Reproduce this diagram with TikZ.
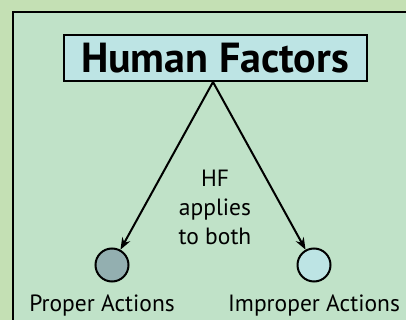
\documentclass[tikz,border=0pt]{standalone}
\usepackage{fontspec}
\setmainfont{PT Sans}
\usetikzlibrary{arrows.meta}
\definecolor{outerbg}{RGB}{196,224,180}
\definecolor{panelbg}{RGB}{192,226,200}
\definecolor{titlefill}{RGB}{189,228,228}
\definecolor{leftfill}{RGB}{147,175,176}
\definecolor{rightfill}{RGB}{189,228,228}
\tikzset{
  titlebox/.style={draw=black, line width=2pt, fill=titlefill, minimum width=303pt, minimum height=46pt, inner sep=0pt, font=\fontsize{42}{46}\selectfont\bfseries},
  dot/.style={circle, draw=black, line width=2pt, minimum size=33pt, inner sep=0pt},
  conn/.style={line width=2pt, -{Stealth[length=12pt,width=9pt]}},
  lbl/.style={font=\fontsize{23.5}{29}\selectfont, align=center, inner sep=0pt}
}
\begin{document}
\begin{tikzpicture}[x=1pt,y=1pt]
\useasboundingbox (0,0) rectangle (406,320);
\fill[outerbg] (0,0) rectangle (406,320);
\fill[panelbg] (13,0) rectangle (406,308);
\draw[line width=2pt] (13,0) -- (13,308) -- (406,308);
\node[titlebox] (hf) at (215,262) {Human Factors};
\coordinate (apex) at (213,238);
\node[dot, fill=leftfill] (pa) at (112,55) {};
\node[dot, fill=rightfill] (ia) at (314,55) {};
\draw[conn] (apex) -- (pa);
\draw[conn] (apex) -- (ia);
\node[lbl] (txt) at (215,113) {HF\\applies\\to both};
\node[lbl] (pal) at (102,15) {Proper Actions};
\node[lbl] (ial) at (314,15) {Improper Actions};
\end{tikzpicture}
\end{document}
